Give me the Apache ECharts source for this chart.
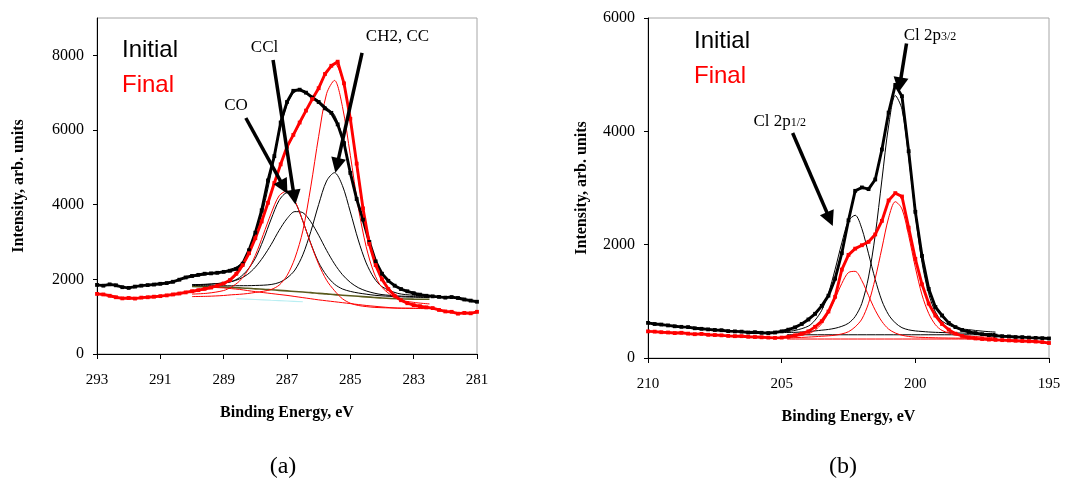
<!DOCTYPE html>
<html>
<head>
<meta charset="utf-8">
<script src="https://cdn.jsdelivr.net/npm/echarts/dist/echarts.min.js"></script>
<style>
html,body{margin:0;padding:0;background:#fff;}
#chart{width:1066px;height:481px;}
</style>
</head>
<body>
<div id="chart"></div>
<script>
// ---------- Panel (a): C 1s ----------
const E_RAW_A = [293,292.8,292.6,292.4,292.2,292,291.8,291.6,291.4,291.2,291,290.8,290.6,290.4,290.2,290,289.8,289.6,289.4,289.2,289,288.8,288.6,288.4,288.2,288,287.8,287.6,287.4,287.2,287,286.8,286.6,286.4,286.2,286,285.8,285.6,285.4,285.2,285,284.8,284.6,284.4,284.2,284,283.8,283.6,283.4,283.2,283,282.8,282.6,282.4,282.2,282,281.8,281.6,281.4,281.2,281];
const RAW_INITIAL_A = [1850,1830,1865,1840,1790,1770,1805,1830,1845,1860,1880,1900,1935,1990,2050,2090,2120,2150,2160,2175,2200,2230,2280,2420,2780,3250,3850,4650,5300,6200,6750,7050,7080,7000,6870,6750,6580,6460,6150,5650,4850,4150,3600,3000,2480,2150,1960,1830,1740,1680,1630,1590,1560,1545,1530,1510,1525,1500,1460,1430,1400];
const RAW_FINAL_A = [1610,1595,1560,1520,1490,1500,1485,1510,1520,1535,1550,1570,1595,1620,1650,1680,1710,1745,1780,1830,1890,1980,2150,2380,2700,3100,3550,4050,4580,5080,5550,5870,6200,6520,6830,7120,7500,7720,7830,7250,6300,5100,3900,2950,2380,2000,1740,1560,1440,1360,1310,1280,1250,1230,1180,1140,1130,1080,1100,1090,1130];

const E_FIT_A = [290,289.5,289,288.75,288.5,288.25,288,287.75,287.5,287.25,287,286.75,286.5,286.25,286,285.75,285.5,285.25,285,284.75,284.5,284.25,284,283.5,283,282.5];
const FIT_INITIAL_A = [2060,2140,2220,2280,2380,2650,3200,3880,4850,5900,6680,7030,7060,6920,6780,6600,6400,5820,4900,4050,3300,2600,2150,1790,1630,1570];
const CO_INITIAL_A  = [1857,1868,1902,1942,2046,2248,2564,3050,3614,4113,4320,4083,3559,2965,2449,2103,1871,1742,1677,1634,1603,1575,1557,1534,1521,1511];
const CCL_INITIAL_A = [1859,1868,1906,1940,2010,2129,2326,2601,2933,3309,3625,3814,3786,3543,3181,2776,2415,2126,1918,1777,1689,1631,1591,1556,1538,1524];
const CH2_INITIAL_A = [1836,1829,1829,1826,1830,1830,1836,1843,1862,1914,2036,2249,2657,3275,4005,4633,4857,4511,3806,3055,2440,2035,1803,1624,1573,1545];
const BG_INITIAL_A  = [1810,1800,1790,1780,1770,1760,1745,1735,1720,1705,1690,1675,1660,1645,1625,1610,1590,1575,1560,1545,1530,1515,1500,1480,1470,1465];
const FIT_FINAL_A   = [1650,1740,1870,1990,2200,2600,3150,3700,4300,4950,5500,5920,6320,6750,7100,7550,7780,7350,6250,4700,3400,2500,2000,1520,1320,1260];
const CO_FINAL_A    = [1604,1629,1700,1797,1954,2225,2642,3197,3768,4236,4367,4096,3561,2954,2404,1976,1696,1480,1360,1300,1270,1250,1240,1230,1228,1225];
const CH2_FINAL_A   = [1538,1546,1567,1586,1599,1619,1649,1680,1728,1843,2100,2568,3298,4475,5830,6973,7328,6630,5323,3932,2874,2169,1784,1471,1383,1341];
const BG_FINAL_A    = [null,1790,1770,1750,1730,1700,1670,1645,1620,1595,1570,1540,1510,1480,1450,1425,1400,1375,1350,1325,1300,1280,1260,1228,1220,1215];
const E_CYAN_A = [288.6,288,287.5,287,286.5];
const CYAN_A = [1480,1460,1440,1420,1400];
const Y_TICKS_A = [0,2000,4000,6000,8000];

// ---------- Panel (b): Cl 2p ----------
const E_RAW_B = [210,209.75,209.5,209.25,209,208.75,208.5,208.25,208,207.75,207.5,207.25,207,206.75,206.5,206.25,206,205.75,205.5,205.25,205,204.75,204.5,204.25,204,203.75,203.5,203.25,203,202.75,202.5,202.25,202,201.75,201.5,201.25,201,200.75,200.5,200.25,200,199.75,199.5,199.25,199,198.75,198.5,198.25,198,197.75,197.5,197.25,197,196.75,196.5,196.25,196,195.75,195.5,195.25,195];
const RAW_INITIAL_B = [620,600,590,575,560,550,545,525,515,505,495,490,475,470,465,450,455,445,440,450,470,500,540,600,680,780,920,1100,1400,1850,2430,2950,3010,2980,3150,3680,4330,4820,4620,3650,2580,1800,1220,900,750,620,545,495,460,440,420,405,395,385,380,370,368,360,355,350,345];
const RAW_FINAL_B = [470,465,455,450,440,445,430,420,425,410,405,400,390,385,385,375,370,365,360,355,360,375,400,430,470,550,650,820,1080,1560,1820,1930,1990,2050,2180,2420,2780,2910,2850,2300,1750,1300,960,750,600,500,430,390,360,345,335,325,320,315,310,305,300,295,290,280,265];

const E_COMP_B = [205,204.5,204,203.75,203.5,203.25,203,202.75,202.5,202.25,202,201.75,201.5,201.25,201,200.75,200.5,200.25,200,199.75,199.5,199.25,199,198.5,198,197.5,197];
const P12_INITIAL_B = [461,487,563,668,843,1143,1565,2031,2420,2519,2282,1839,1386,1008,763,620,535,497,478,468,459,453,449,442,438,434,432];
const P32_INITIAL_B = [449,453,466,478,491,504,525,559,614,732,965,1430,2170,3143,4095,4632,4391,3545,2530,1684,1134,813,652,533,500,474,457];
const P12_FINAL_B   = [363,379,429,492,607,796,1049,1315,1509,1529,1364,1100,843,644,510,441,402,380,369,364,360,357,354,351,348,346,345];
const P32_FINAL_B   = [354,359,369,376,384,391,403,425,464,549,687,967,1404,1939,2473,2758,2631,2162,1599,1113,787,588,486,410,386,371,362];
const E_BG_B = [204.8,197.5];
const BG_INITIAL_B = [410,410];
const BG_FINAL_B = [335,335];
const Y_TICKS_B = [0,2000,4000,6000];

const SERIF = '"Liberation Serif","Times New Roman",serif';
const SANS = '"Liberation Sans",Arial,sans-serif';

function pairs(xs, ys) { return xs.map((x, i) => [x, ys[i]]); }

function thin(name, xi, xs, ys, color, width) {
  return {
    name: name, type: 'line', xAxisIndex: xi, yAxisIndex: xi,
    data: pairs(xs, ys), smooth: 0.3, showSymbol: false, symbol: 'none',
    lineStyle: { color: color, width: width || 1 }, itemStyle: { color: color },
    silent: true, z: 2
  };
}
function raw(name, xi, xs, ys, color, extra) {
  return Object.assign({
    name: name, type: 'line', xAxisIndex: xi, yAxisIndex: xi,
    data: pairs(xs, ys), showSymbol: true, showAllSymbol: true,
    symbol: 'rect', symbolSize: 3.8,
    lineStyle: { color: color, width: 2.9 }, itemStyle: { color: color },
    silent: true, z: 4
  }, extra || {});
}

const arrowStyle = {
  silent: true, symbol: ['none', 'triangle'], symbolSize: 15,
  symbolKeepAspect: true,
  lineStyle: { color: '#000', width: 3.5, type: 'solid' },
  itemStyle: { color: '#000' },
  label: { show: false }, emphasis: { disabled: true }, animation: false
};
const labelStyle = {
  show: true, position: 'inside', color: '#000', fontFamily: SERIF, fontSize: 17,
  formatter: p => p.name
};

const annotA = {
  markLine: Object.assign({ data: [
    [{ coord: [287.44, 7876] }, { coord: [286.77, 4200] }],
    [{ coord: [288.3, 6322] }, { coord: [287.1, 4470] }],
    [{ coord: [284.63, 8064] }, { coord: [285.42, 5050] }]
  ] }, arrowStyle),
  markPoint: {
    silent: true, symbol: 'circle', symbolSize: 0, label: labelStyle,
    itemStyle: { color: 'transparent' },
    data: [
      { name: 'CCl', coord: [287.71, 8211] },
      { name: 'CO', coord: [288.61, 6657] },
      { name: 'CH2, CC', coord: [283.51, 8506] }
    ]
  }
};
const annotB = {
  markLine: Object.assign({ data: [
    [{ coord: [200.33, 5550] }, { coord: [200.58, 4820] }],
    [{ coord: [204.59, 3971] }, { coord: [203.2, 2450] }]
  ] }, arrowStyle),
  markPoint: {
    silent: true, symbol: 'circle', symbolSize: 0,
    itemStyle: { color: 'transparent' },
    label: {
      show: true, position: 'inside', color: '#000',
      formatter: p => '{m|Cl 2p}{s|' + p.name + '}',
      rich: {
        m: { fontFamily: SERIF, fontSize: 17, color: '#000', lineHeight: 20, verticalAlign: 'bottom' },
        s: { fontFamily: SERIF, fontSize: 12, color: '#000', lineHeight: 20, verticalAlign: 'bottom', padding: [0, 0, 1, 0] }
      }
    },
    data: [
      { name: '3/2', coord: [199.45, 5724] },
      { name: '1/2', coord: [205.07, 4197] }
    ]
  }
};

function xAxisCfg(gi, min, max, interval) {
  return {
    gridIndex: gi, type: 'value', inverse: true, min: min, max: max, interval: interval,
    axisLine: { show: true, onZero: false, lineStyle: { color: '#000', width: 1 } },
    axisTick: { show: true, inside: false, length: 5, lineStyle: { color: '#000' } },
    axisLabel: { color: '#000', fontFamily: SERIF, fontSize: 15, margin: 19 },
    splitLine: { show: false },
    name: 'Binding Energy, eV', nameLocation: 'middle', nameGap: 51,
    nameTextStyle: { color: '#000', fontFamily: SERIF, fontSize: 16, fontWeight: 'bold' }
  };
}
function yAxisCfg(gi, max, interval, gap, ticks) {
  return {
    gridIndex: gi, type: 'value', min: 0, max: max, interval: interval,
    axisLine: { show: true, onZero: false, lineStyle: { color: '#000', width: 1 } },
    axisTick: { show: true, inside: false, length: 4, lineStyle: { color: '#000' }, customValues: ticks },
    axisLabel: { color: '#000', fontFamily: SERIF, fontSize: 16, margin: 13, customValues: ticks,
      formatter: v => (v % interval === 0 ? String(v) : '') },
    splitLine: { show: false },
    name: 'Intensity, arb. units', nameLocation: 'middle', nameGap: gap,
    nameTextStyle: { color: '#000', fontFamily: SERIF, fontSize: 16, fontWeight: 'bold' }
  };
}
function legendCfg(left, top) {
  return {
    left: left, top: top, orient: 'vertical', itemGap: 11, itemWidth: 0, itemHeight: 0,
    selectedMode: false, icon: 'none',
    textStyle: { fontFamily: SANS, fontSize: 24, padding: 0 },
    data: [
      { name: 'Initial', icon: 'none', textStyle: { color: '#000' } },
      { name: 'Final', icon: 'none', textStyle: { color: '#ff0000' } }
    ]
  };
}

const series = [
  // panel (a)
  thin('bgA', 0, E_FIT_A, BG_INITIAL_A, '#5a5a1c', 1.6),
  thin('cyanA', 0, E_CYAN_A, CYAN_A, '#b9eef2', 1.2),
  thin('bgFA', 0, E_FIT_A, BG_FINAL_A, '#ff0000', 1),
  thin('coIA', 0, E_FIT_A, CO_INITIAL_A, '#000', 1),
  thin('cclIA', 0, E_FIT_A, CCL_INITIAL_A, '#000', 1),
  thin('ch2IA', 0, E_FIT_A, CH2_INITIAL_A, '#000', 1),
  thin('coFA', 0, E_FIT_A, CO_FINAL_A, '#ff0000', 1),
  thin('ch2FA', 0, E_FIT_A, CH2_FINAL_A, '#ff0000', 1),
  thin('fitIA', 0, E_FIT_A, FIT_INITIAL_A, '#000', 1),
  thin('fitFA', 0, E_FIT_A, FIT_FINAL_A, '#ff0000', 1),
  raw('Initial', 0, E_RAW_A, RAW_INITIAL_A, '#000', annotA),
  raw('Final', 0, E_RAW_A, RAW_FINAL_A, '#ff0000'),
  // panel (b)
  thin('bgIB', 1, E_BG_B, BG_INITIAL_B, '#000', 1),
  thin('bgFB', 1, E_BG_B, BG_FINAL_B, '#ff0000', 1),
  thin('p12IB', 1, E_COMP_B, P12_INITIAL_B, '#000', 1),
  thin('p32IB', 1, E_COMP_B, P32_INITIAL_B, '#000', 1),
  thin('p12FB', 1, E_COMP_B, P12_FINAL_B, '#ff0000', 1),
  thin('p32FB', 1, E_COMP_B, P32_FINAL_B, '#ff0000', 1),
  raw('Initial', 1, E_RAW_B, RAW_INITIAL_B, '#000', annotB),
  raw('Final', 1, E_RAW_B, RAW_FINAL_B, '#ff0000')
];

const chart = echarts.init(document.getElementById('chart'), null, { renderer: 'canvas' });
chart.setOption({
  animation: false,
  backgroundColor: '#fff',
  grid: [
    { left: 97, top: 18, width: 380, height: 336, show: true, borderColor: '#a6a6a6', borderWidth: 1, backgroundColor: 'transparent' },
    { left: 648, top: 18, width: 401, height: 340, show: true, borderColor: '#a6a6a6', borderWidth: 1, backgroundColor: 'transparent' }
  ],
  xAxis: [xAxisCfg(0, 281, 293, 2), xAxisCfg(1, 195, 210, 5)],
  yAxis: [yAxisCfg(0, 9000, 2000, 70, Y_TICKS_A), yAxisCfg(1, 6000, 2000, 58, Y_TICKS_B)],
  legend: [legendCfg(112, 33), legendCfg(684, 24)],
  graphic: [
    { type: 'text', x: 283, y: 467, style: { text: '(a)', font: '24px ' + SERIF, fill: '#000', align: 'center', verticalAlign: 'middle', textAlign: 'center', textVerticalAlign: 'middle' } },
    { type: 'text', x: 843, y: 467, style: { text: '(b)', font: '24px ' + SERIF, fill: '#000', align: 'center', verticalAlign: 'middle', textAlign: 'center', textVerticalAlign: 'middle' } }
  ],
  series: series
});
</script>
</body>
</html>
